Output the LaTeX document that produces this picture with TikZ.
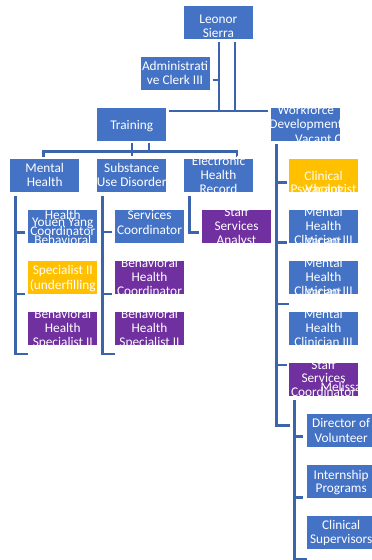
\documentclass[tikz,border=0pt]{standalone}
\usepackage{fontspec}
\setmainfont{Carlito}
\usetikzlibrary{calc}
\definecolor{bblue}{HTML}{4472C4}
\definecolor{byel}{HTML}{FFC000}
\definecolor{bpur}{HTML}{7030A0}
\definecolor{lnc}{HTML}{3B64AD}
\tikzset{
  box/.style={rectangle, draw=none, minimum width=69pt, minimum height=33pt, inner sep=0pt},
  blue box/.style={box, fill=bblue},
  yellow box/.style={box, fill=byel},
  purple box/.style={box, fill=bpur},
  tx/.style={text=white, font=\fontsize{13.3}{14}\selectfont, inner sep=0pt,
             text height=9.5pt, text depth=1.5pt, anchor=center},
  ln/.style={draw=lnc, line width=2.5pt},
}
% one white text line per entry: name prefix, x, y of first line, line step, lines
\newcommand\txl[5]{\foreach \s [count=\k] in {#5} \node[tx] (#1-\k) at (#2,{#3+#4*(\k-1)}) {\s};}
\begin{document}
\begin{tikzpicture}[x=1pt,y=-1pt]
\clip (0,0) rectangle (372,560);
\fill[white] (0,0) rectangle (372,560);

% ---------- boxes ----------
\node[blue box] (leonor) at (218.4,22.8) {};
\node[blue box] (admin) at (175,73.5) {};
\node[blue box] (training) at (131.7,124.6) {};
\node[blue box] (wf) at (305.8,124.6) {};
\node[blue box] (mh) at (44.7,175.6) {};
\node[blue box] (sud) at (131.7,175.6) {};
\node[blue box] (ehr) at (218.5,175.6) {};
\node[blue box] (yy) at (62.8,226.6) {};
\node[yellow box] (ylw) at (62.8,277.5) {};
\node[purple box] (bhsa) at (62.8,328.3) {};
\node[blue box] (sc) at (149.5,226.6) {};
\node[purple box] (bhc) at (149.5,277.5) {};
\node[purple box] (bhsb) at (149.5,328.3) {};
\node[purple box] (ssa) at (236.5,226.6) {};
\node[yellow box] (cp) at (323.5,175.8) {};
\node[blue box] (mhca) at (323.5,226.6) {};
\node[blue box] (mhcb) at (323.5,277.5) {};
\node[blue box] (mhcc) at (323.5,328.5) {};
\node[purple box] (ssc) at (323.5,379.6) {};
\node[blue box] (dov) at (341.2,430) {};
\node[blue box] (ip) at (341.2,481.3) {};
\node[blue box] (cs) at (341.2,532.2) {};

% ---------- connectors ----------
% director to the first level
\coordinate (ja) at (219,111);
\coordinate (jb) at (235,111);
\draw[ln, shorten <=2pt] (leonor.south -| ja) -- (ja);
\draw[ln, shorten <=2pt] (leonor.south -| jb) -- (jb);
\coordinate (adm) at (219,80);
\draw[ln, shorten <=3pt] (admin.east |- adm) -- (adm);
\draw[ln, shorten <=3pt, shorten >=3pt] (training.east |- ja) -- (wf.west |- ja);

% training to its three programmes
\coordinate (ka) at (132,151.5);
\coordinate (kb) at (149,151.5);
\draw[ln, shorten <=2pt] (training.south -| ka) -- (ka);
\draw[ln, shorten <=2pt] (training.south -| kb) -- (kb);
\coordinate (mhd) at (43.3,156.5);
\coordinate (ehrd) at (237,156.5);
\coordinate (bb) at (237,151.5);
\draw[ln] (mhd) |- (bb) -- (ehrd);
\draw[ln, shorten >=2.5pt] (ka) -- (sud.north -| ka);

% mental health column
\coordinate (mhs) at (15.7,195.5);
\coordinate (mhe) at (28.3,354);
\coordinate (mh1) at (25,232.7);
\coordinate (mh2) at (25,294.2);
\draw[ln] (mhs) |- (mhe);
\draw[ln] (mhs |- mh1) -- (mh1);
\draw[ln] (mhs |- mh2) -- (mh2);

% substance use disorder column
\coordinate (sus) at (102.7,195.5);
\coordinate (sue) at (115,354);
\coordinate (su1) at (112,232.2);
\coordinate (su2) at (112,294.2);
\draw[ln] (sus) |- (sue);
\draw[ln] (sus |- su1) -- (su1);
\draw[ln] (sus |- su2) -- (su2);

% electronic health record
\coordinate (ers) at (189.3,195.5);
\coordinate (ere) at (198.5,232.7);
\draw[ln] (ers) |- (ere);

% workforce development column
\coordinate (wfs) at (276.7,144);
\coordinate (wfe) at (290,425.7);
\coordinate (wf1) at (286.5,182.3);
\coordinate (wf2) at (286.5,242.5);
\coordinate (wf3) at (289,304.2);
\coordinate (wf4) at (286.5,365);
\draw[ln] (wfs) |- (wfe);
\draw[ln] (wfs |- wf1) -- (wf1);
\draw[ln] (wfs |- wf2) -- (wf2);
\draw[ln] (wfs |- wf3) -- (wf3);
\draw[ln] (wfs |- wf4) -- (wf4);

% staff services coordinator column
\coordinate (scs) at (294.3,400);
\coordinate (sce) at (306.7,559);
\coordinate (sc1) at (303.3,436.7);
\coordinate (sc2) at (303.3,497.3);
\draw[ln] (scs) |- (sce);
\draw[ln] (scs |- sc1) -- (sc1);
\draw[ln] (scs |- sc2) -- (sc2);

% ---------- box texts ----------
\txl{leonor-t}{218.4}{19.7}{13.6}{Leonor,Sierra}
\txl{admin-t}{175}{66.2}{14.5}{Administrati,ve Clerk III}
\txl{training-t}{131.7}{125}{14}{Training}
\txl{wf-t}{305.8}{110}{14.4}{Workforce,Development}
\node[tx, anchor=west] (wf-v) at (295,139) {Vacant C};
\txl{mh-t}{44.7}{168}{14.5}{Mental,Health}
\txl{sud-t}{131.7}{168}{14.5}{Substance,Use Disorder}
\txl{ehr-t}{218.5}{161.6}{14}{Electronic,Health,Record}
\txl{yy-t}{62.8}{215.3}{15.7}{Health,Coordinator}
\node[tx] (yy-n) at (62.8,222.3) {Youen Yang};
\node[tx] (yy-b) at (62.8,240) {Behavioral};
\node[tx] (ylw-1) at (62.8,270) {Specialist II};
\node[tx] (ylw-2) at (62.8,285) {(underfilling};
\txl{bhsa-t}{62.8}{314}{14}{Behavioral,Health,Specialist II}
\txl{sc-t}{149.5}{215.7}{14.3}{Services,Coordinator}
\txl{bhc-t}{149.5}{263.5}{14}{Behavioral,Health,Coordinator}
\txl{bhsb-t}{149.5}{314}{14}{Behavioral,Health,Specialist II}
\txl{ssa-t}{236.5}{212.3}{14}{Staff,Services,Analyst}
\txl{cp-t}{323.5}{176.5}{13}{Clinical,Psychologist}
\node[tx] (cp-v) at (323.5,189.5) {Vacant};
\txl{mhca-t}{323.5}{212.3}{14.3}{Mental,Health,Clinician III}
\node[tx] (mhca-v) at (323.5,241) {Vacant};
\txl{mhcb-t}{323.5}{263.3}{14.3}{Mental,Health,Clinician III}
\node[tx] (mhcb-v) at (323.5,292) {Vacant};
\txl{mhcc-t}{323.5}{314}{14}{Mental,Health,Clinician III}
\txl{ssc-t}{323.5}{365}{13.7}{Staff,Services,Coordinator}
\node[tx, anchor=west] (ssc-n) at (320.5,387.5) {Melissa};
\txl{dov-t}{341.2}{423.3}{14.7}{Director of,Volunteer}
\txl{ip-t}{341.2}{475}{13.5}{Internship,Programs}
\txl{cs-t}{341.2}{525}{14.3}{Clinical,Supervisors}
\end{tikzpicture}
\end{document}
